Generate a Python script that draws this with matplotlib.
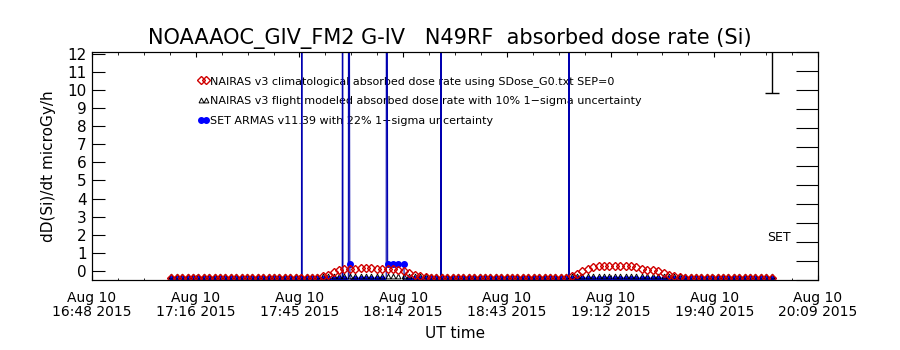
import numpy as np
import matplotlib.pyplot as plt
import matplotlib.dates as mdates
from matplotlib.ticker import AutoMinorLocator
from datetime import datetime, timedelta

title = "NOAAAOC_GIV_FM2 G-IV   N49RF  absorbed dose rate (Si)"
base = datetime(2015, 8, 10, 16, 48)
t_start = datetime(2015, 8, 10, 16, 48, 13)
t_end = datetime(2015, 8, 10, 20, 9, 32)

# sample times, minutes after 16:48 UT
grid_min = np.arange(22.2, 189.0, 1.5)

# NAIRAS v3 climatological
red_v = [-0.37, -0.37, -0.37, -0.37, -0.37, -0.37, -0.37, -0.37, -0.37, -0.37,
         -0.37, -0.37, -0.37, -0.37, -0.37, -0.37, -0.37, -0.37, -0.37, -0.37,
         -0.37, -0.37, -0.37, -0.37, -0.37, -0.37, -0.37, -0.37,
         -0.30, -0.20, -0.07, 0.03, 0.09, 0.11, 0.13, 0.14, 0.14, 0.14,
         0.13, 0.13, 0.12, 0.11, 0.08, 0.00, -0.10, -0.20, -0.28, -0.34,
         -0.37, -0.37, -0.37, -0.37, -0.37, -0.37, -0.37, -0.37, -0.37, -0.37,
         -0.37, -0.37, -0.37, -0.37, -0.37, -0.37, -0.37, -0.37, -0.37, -0.37,
         -0.37, -0.37, -0.37, -0.37, -0.37, -0.37,
         -0.28, -0.15, -0.02, 0.10, 0.20, 0.27, 0.29, 0.29, 0.28, 0.27,
         0.27, 0.25, 0.20, 0.12, 0.08, 0.06, 0.00, -0.10, -0.20, -0.28, -0.34,
         -0.37, -0.37, -0.37, -0.37, -0.37, -0.37, -0.37, -0.37, -0.37, -0.37,
         -0.37, -0.37, -0.37, -0.37, -0.37, -0.37, -0.37]

# NAIRAS v3 flight modeled
black_v = [-0.27, -0.27, -0.27, -0.27, -0.27, -0.27, -0.27, -0.27, -0.27, -0.27,
           -0.27, -0.27, -0.27, -0.27, -0.27, -0.27, -0.27, -0.27, -0.27, -0.27,
           -0.27, -0.27, -0.27, -0.27, -0.27, -0.27, -0.27, -0.27, -0.27, -0.27,
           -0.27, -0.27, -0.27, -0.27, -0.27, -0.27, -0.27, -0.27, -0.27, -0.27,
           -0.27, -0.27, -0.27, -0.27, -0.27, -0.27, -0.27, -0.27, -0.27, -0.27,
           -0.27, -0.27, -0.27, -0.27, -0.27, -0.27, -0.27, -0.27, -0.27, -0.27,
           -0.27, -0.27, -0.27, -0.27, -0.27, -0.27, -0.27, -0.27, -0.27, -0.27,
           -0.27, -0.27, -0.27, -0.27, -0.27, -0.27, -0.27, -0.27, -0.27, -0.27,
           -0.27, -0.27, -0.27, -0.27, -0.27, -0.27, -0.27, -0.27, -0.27, -0.27,
           -0.27, -0.27, -0.27, -0.27, -0.27, -0.27, -0.27, -0.27, -0.27, -0.27,
           -0.27, -0.27, -0.27, -0.27, -0.27, -0.27, -0.27, -0.27, -0.27, -0.27,
           -0.27, -0.27]

# SET ARMAS v11.39 on the same grid
blue_v = [-0.45, -0.45, -0.45, -0.45, -0.45, -0.45, -0.45, -0.45, -0.45, -0.45,
          -0.45, -0.45, -0.45, -0.45, -0.45, -0.45, -0.45, -0.45, -0.45, -0.45,
          -0.45, -0.45, -0.45, -0.45, -0.45, -0.45, -0.45, -0.45, -0.45, -0.45,
          -0.45, -0.45, -0.45, 0.37, -0.45, -0.45, -0.45, -0.45, -0.45, -0.45,
          0.37, 0.37, 0.37, 0.37, -0.45, -0.45, -0.45, -0.45, -0.45, -0.45,
          -0.45, -0.45, -0.45, -0.45, -0.45, -0.45, -0.45, -0.45, -0.45, -0.45,
          -0.45, -0.45, -0.45, -0.45, -0.45, -0.45, -0.45, -0.45, -0.45, -0.45,
          -0.45, -0.45, -0.45, -0.45, -0.45, -0.45, -0.45, -0.45, -0.45, -0.45,
          -0.45, -0.45, -0.45, -0.45, -0.45, -0.45, -0.45, -0.45, -0.45, -0.45,
          -0.45, -0.45, -0.45, -0.45, -0.45, -0.45, -0.45, -0.45, -0.45, -0.45,
          -0.45, -0.45, -0.45, -0.45, -0.45, -0.45, -0.45, -0.45, -0.45, -0.45,
          -0.45, -0.45]
# off-scale SET ARMAS spikes (extra samples)
spike_min = [58.3, 58.4, 58.5, 69.6, 69.7, 69.8, 71.3, 71.4, 71.8,
             81.8, 81.9, 86.8, 96.9, 97.0, 97.1, 132.4, 132.5, 132.6]
spike_v = [-0.45, 45.0, -0.45, -0.45, 45.0, -0.45, -0.45, 45.0, -0.45,
           -0.45, 45.0, -0.45, -0.45, 45.0, -0.45, -0.45, 45.0, -0.45]


def to_dates(minutes):
    return mdates.date2num([base + timedelta(minutes=float(m)) for m in minutes])


t_grid = to_dates(grid_min)
line_min = np.concatenate([grid_min, spike_min])
line_v = np.concatenate([blue_v, spike_v])
order = np.argsort(line_min)
t_line = to_dates(line_min[order])
v_line = line_v[order]

fig = plt.figure(figsize=(9, 3.5), dpi=100)
ax = fig.add_axes([92 / 900, 70 / 350, 726 / 900, 228 / 350])

ax.plot(t_line, v_line, color='#0000b0', lw=0.8, zorder=2)
ax.plot(t_grid, blue_v, 'o', ms=4, color='#0000ff', zorder=2,
        label='SET ARMAS v11.39 with 22% 1\u2212sigma uncertainty')
ax.plot(t_grid, black_v, '^', ms=3.5, mfc='none', mec='black', mew=0.7, ls='none', zorder=3,
        label='NAIRAS v3 flight modeled absorbed dose rate with 10% 1\u2212sigma uncertainty')
ax.plot(t_grid, red_v, 'D', ms=4.5, mfc='none', mec='#d00000', mew=1.0, ls='none', zorder=3,
        label='NAIRAS v3 climatological absorbed dose rate using SDose_G0.txt SEP=0')

# uncertainty bar and SET tag at the right
ax.errorbar(to_dates([188.8])[0], 12.3, yerr=[[2.47], [0]], fmt='none', ecolor='black',
            elinewidth=1, capsize=5)
ax.text(to_dates([194.1])[0], 1.85, 'SET', ha='right', va='center', fontsize=9)

handles, labels = ax.get_legend_handles_labels()
leg = ax.legend(handles[::-1], labels[::-1], loc='upper left', bbox_to_anchor=(0.14, 0.915),
                frameon=False, fontsize=8, handlelength=1.0, handletextpad=0.1,
                numpoints=2, labelspacing=0.86, borderaxespad=0)
leg.set_zorder(1)

ax.set_xlim(mdates.date2num(t_start), mdates.date2num(t_end))
ax.set_ylim(-0.5, 12.1)
ax.set_yticks(range(0, 13))
ticks = np.linspace(mdates.date2num(t_start), mdates.date2num(t_end), 8)
ax.set_xticks(ticks, labels=[mdates.num2date(t).strftime('%b %d\n%H:%M %Y') for t in ticks])
for lab in ax.get_xticklabels():
    lab.set_linespacing(1.0)
ax.xaxis.set_minor_locator(AutoMinorLocator(4))
ax.tick_params(axis='x', which='both', direction='in', top=True, labelsize=10, pad=8)
ax.tick_params(axis='x', which='major', length=3.6)
ax.tick_params(axis='x', which='minor', length=1.8)
ax.tick_params(axis='y', direction='in', length=9.4, labelsize=11, pad=4)

ax2 = ax.twinx()
ax2.set_ylim(0, 12)
ax2.set_yticks(range(0, 13))
ax2.tick_params(axis='y', direction='in', length=15.7, labelright=False)

ax.set_ylabel('dD(Si)/dt microGy/h', fontsize=11)
ax.yaxis.set_label_coords(-0.05, 0.5)
ax.set_xlabel('UT time', fontsize=11)
ax.xaxis.set_label_coords(0.5, -0.2)
fig.text(0.5, (350 - 44) / 350, title, ha='center', va='baseline', fontsize=15)

fig.savefig('out.png', dpi=100)
